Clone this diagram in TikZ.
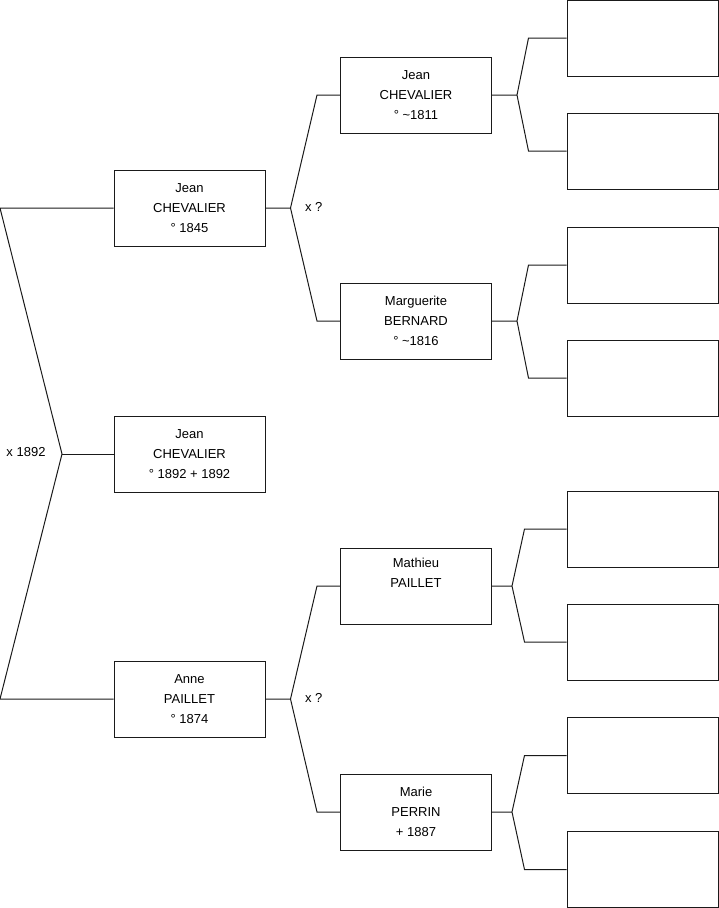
\documentclass[tikz,border=0pt]{standalone}
\usepackage{fontspec}
\setmainfont{Liberation Sans}
\usetikzlibrary{positioning,calc}
\definecolor{ink}{HTML}{1A1A1A}

\begin{document}
\begin{tikzpicture}[x=1pt,y=-1pt,line width=1pt,
  person/.style={draw=ink,fill=white,minimum width=151pt,minimum height=76pt,
                 inner sep=0pt,align=center,font=\fontsize{13}{20}\selectfont},
  mariage/.style={inner sep=0pt,font=\fontsize{13}{15}\selectfont},
  link/.style={draw=ink,line join=miter}]
  \useasboundingbox (0,0) rectangle (719,908);
  % the couple and their child
  \node[person] (jean) at (189.5,208) {Jean\\CHEVALIER\\° 1845};
  \node[person] (enfant) at (189.5,454) {Jean\\CHEVALIER\\° 1892 + 1892};
  \node[person] (anne) at (189.5,699) {Anne\\PAILLET\\° 1874};
  % grand-parents
  \node[person] (jeanp) at (416,95) {Jean\\CHEVALIER\\° \textasciitilde1811};
  \node[person] (marguerite) at (416,321) {Marguerite\\BERNARD\\° \textasciitilde1816};
  \node[person] (mathieu) at (416,586) {Mathieu\\PAILLET\\\strut};
  \node[person] (marie) at (416,812) {Marie\\PERRIN\\+ 1887};
  % empty slots
  \foreach \n/\y in {1/38,2/151,3/265,4/378,5/529,6/642,7/755.5,8/869.5}
    \node[person] (g\n) at (642.5,\y) {};

  \coordinate (bord) at (0,454);
  \coordinate (m0) at (62,454);
  \coordinate (mj) at ($(jean.east)+(25,0)$);
  \coordinate (ma) at ($(anne.east)+(25,0)$);
  \coordinate (mj1) at ($(jeanp.east)+(25,0)$);
  \coordinate (mj2) at ($(marguerite.east)+(25,0)$);
  \coordinate (ma1) at ($(mathieu.east)+(20,0)$);
  \coordinate (ma2) at ($(marie.east)+(20,0)$);

  \draw[link] (jean.west) -- (jean.west -| bord) -- (m0)
              -- (anne.west -| bord) -- (anne.west);
  \draw[link] (m0) -- (enfant.west);
  \foreach \kid/\fork/\up/\down/\dx in {jean/mj/jeanp/marguerite/23,
      anne/ma/mathieu/marie/23, jeanp/mj1/g1/g2/38, marguerite/mj2/g3/g4/38,
      mathieu/ma1/g5/g6/42, marie/ma2/g7/g8/42}
    \draw[link] (\kid.east) -- (\fork)
                (\up.west) -- ($(\up.west)+(-\dx,0)$) -- (\fork)
                -- ($(\down.west)+(-\dx,0)$) -- (\down.west);

  \node[mariage,left=16pt of m0,yshift=2pt] (x0) {x 1892};
  \node[mariage,right=14pt of mj,yshift=1pt] (xj) {x ?};
  \node[mariage,right=14pt of ma,yshift=1pt] (xa) {x ?};
\end{tikzpicture}
\end{document}
